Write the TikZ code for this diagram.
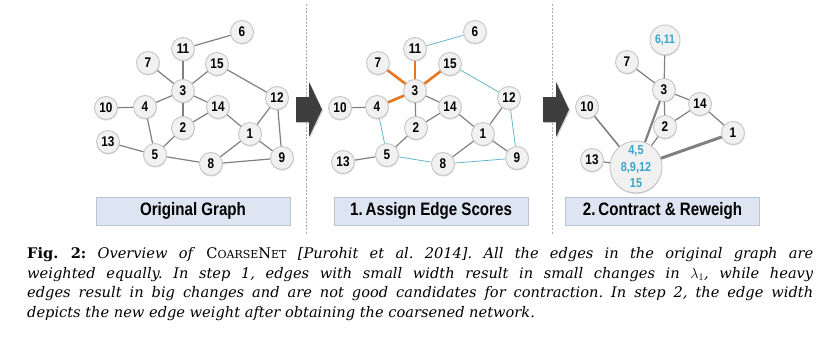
\documentclass[tikz,border=0pt]{standalone}
\usepackage{fontspec}
\usepackage{tikz}
\usetikzlibrary{shadows}
\newfontfamily\graphfont[FakeStretch=0.84]{Liberation Sans}
\newfontfamily\captionfont{DejaVu Serif}
\definecolor{nodefill}{RGB}{241,241,241}
\definecolor{nodeline}{RGB}{198,198,198}
\definecolor{edgegray}{RGB}{128,128,128}
\definecolor{heavy}{RGB}{230,118,32}
\definecolor{light}{RGB}{104,180,206}
\definecolor{merged}{RGB}{58,165,200}
\definecolor{boxfill}{RGB}{220,229,241}
\definecolor{boxline}{RGB}{186,197,212}
\definecolor{arrowgray}{RGB}{62,62,62}
\definecolor{sepgray}{RGB}{170,170,170}
\newcommand{\capline}[1]{\hbox to 786pt{#1}}
\newcommand{\capsc}[1]{{\fontsize{11}{11}\selectfont #1}}

\begin{document}
\frenchspacing
\begin{tikzpicture}[x=1pt, y=-1pt,
    vertex/.style = {circle, draw=nodeline, line width=0.9pt, fill=nodefill,
      minimum size=23pt, inner sep=0pt,
      drop shadow={opacity=0.25, shadow xshift=0.3pt, shadow yshift=-1.2pt},
      font=\graphfont\bfseries\fontsize{14}{14}\selectfont},
    merged/.style = {vertex, text=merged},
    mergetext/.style = {text=merged, align=center, inner sep=0pt,
      font=\graphfont\bfseries\fontsize{13}{16.5}\selectfont},
    plain/.style = {draw=edgegray, line width=1.2pt},
    heavyedge/.style = {draw=heavy, line width=2.6pt},
    lightedge/.style = {draw=light, line width=0.8pt},
    stagebox/.style = {rectangle, fill=boxfill, draw=boxline, line width=0.6pt,
      minimum width=194pt, minimum height=28pt, inner sep=0pt,
      drop shadow={opacity=0.2, shadow xshift=0pt, shadow yshift=-1pt},
      font=\graphfont\bfseries\fontsize{18}{18}\selectfont},
    sepline/.style = {draw=sepgray, line width=0.8pt, dash pattern=on 2pt off 1.5pt},
    captext/.style = {inner sep=0pt, align=left,
      font=\captionfont\fontsize{14.6}{19.8}\selectfont}
  ]
  \useasboundingbox (0,0) rectangle (829,343);

  % panel separators and step arrows
  \draw[sepline] (306,4) -- (306,234);
  \draw[sepline] (552,4) -- (552,234);
  \foreach \ax in {296,543}
    \fill[arrowgray, drop shadow={opacity=0.35, shadow xshift=1pt, shadow yshift=-1pt}]
      (\ax,97) -- ++(13,0) -- ++(0,-15) -- ++(13,27.5) -- ++(-13,27.5)
      -- ++(0,-15) -- ++(-13,0) -- cycle;

  % original graph
  \foreach \n/\px/\py in {1/250/134, 2/183/128, 3/183/91, 4/145/107, 5/155/155,
      6/242/32, 7/148/63, 8/211/164, 9/282/158, 10/106/108, 11/183/49,
      12/277/98, 13/108/142, 14/218/107, 15/217/64}
    \node[vertex] (a\n) at (\px,\py) {\n};
  \foreach \s/\t in {11/6, 11/3, 7/3, 15/3, 3/4, 3/14, 3/2, 15/12, 10/4, 4/5,
      14/2, 14/1, 12/1, 12/9, 1/9, 1/8, 13/5, 5/2, 5/8, 8/9}
    \draw[plain] (a\s) -- (a\t);

  % edge scores
  \foreach \n/\px/\py in {1/483/134, 2/416/128, 3/415/91, 4/377/107, 5/387/155,
      6/475/32, 7/378/63, 8/443/164, 9/517/158, 10/340/108, 11/415/49,
      12/509/98, 13/343/162, 14/450/107, 15/450/64}
    \node[vertex] (b\n) at (\px,\py) {\n};
  \foreach \s/\t in {3/14, 3/2, 10/4, 14/2, 14/1, 12/1, 1/9, 1/8, 13/5, 5/2}
    \draw[plain] (b\s) -- (b\t);
  \foreach \s/\t in {3/7, 3/11, 3/15, 3/4}
    \draw[heavyedge] (b\s) -- (b\t);
  \foreach \s/\t in {11/6, 15/12, 4/5, 5/8, 8/9, 12/9}
    \draw[lightedge] (b\s) -- (b\t);

  % contracted graph
  \foreach \n/\px/\py in {1/733/133, 2/665/127, 3/664/90, 7/627/62,
      10/587/107, 13/592/160, 14/700/104}
    \node[vertex] (c\n) at (\px,\py) {\n};
  \node[merged, minimum size=30pt, font=\graphfont\bfseries\fontsize{12.5}{12.5}\selectfont]
    (c611) at (665,40) {6,11};
  \node[merged, minimum size=52pt,
    label={[mergetext]center:{4,5\\8,9,12\\15}}] (c45) at (636,167) {};
  \foreach \s/\t in {611/3, 7/3, 3/14, 3/2, 14/1, 2/14, 45/2, 45/13}
    \draw[plain] (c\s) -- (c\t);
  \draw[plain, line width=1.6pt] (c45) -- (c10);
  \draw[plain, line width=2.2pt] (c45) -- (c3);
  \draw[plain, line width=3pt] (c45) -- (c1);

  % stage labels
  \node[stagebox] (orig) at (193,211) {Original Graph};
  \node[stagebox] (score) at (431,211) {1.\,Assign Edge Scores};
  \node[stagebox] (contract) at (662.5,211) {2.\,Contract \& Reweigh};

  % caption
  \node[captext, anchor=base west] (caption) at (27,317.7) {%
    \capline{\textbf{Fig. 2:} \textit{Overview of} C\capsc{OARSE}N\capsc{ET} \textit{[Purohit et al. 2014]. All the edges in the original graph are}}\\
    \capline{\itshape weighted equally. In step 1, edges with small width result in small changes in $\lambda_1$, while heavy}\\
    \capline{\itshape edges result in big changes and are not good candidates for contraction. In step 2, the edge width}\\
    \capline{\itshape depicts the new edge weight after obtaining the coarsened network.\hfil}};
\end{tikzpicture}
\end{document}
